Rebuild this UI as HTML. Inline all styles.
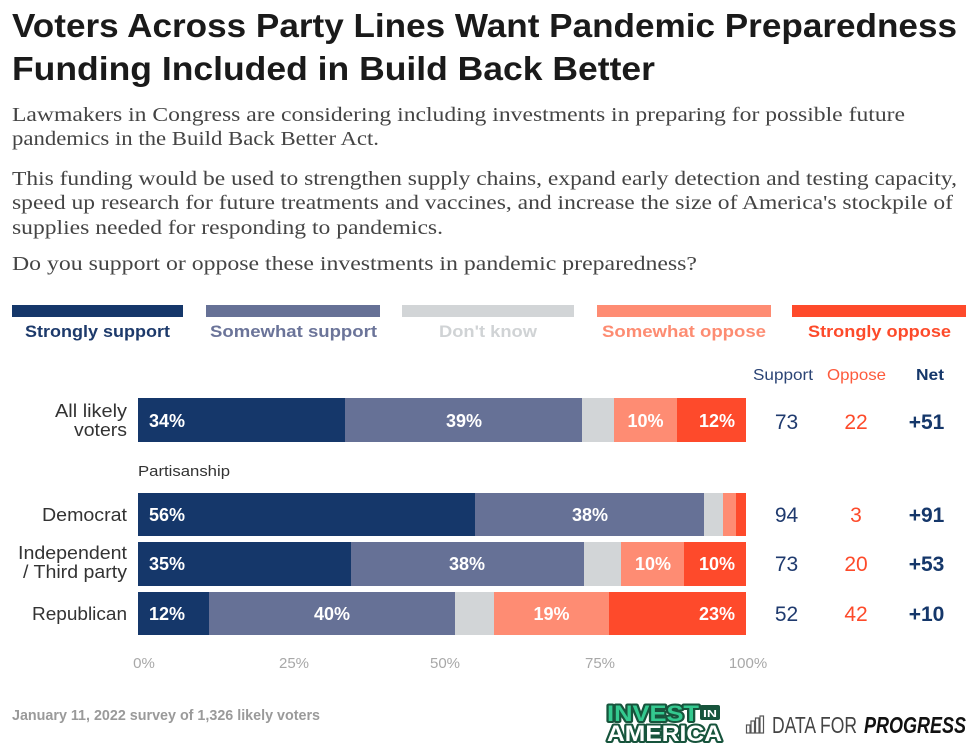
<!DOCTYPE html>
<html>
<head>
<meta charset="utf-8">
<style>
  html, body { margin: 0; padding: 0; background: #ffffff; }
  svg { display: block; }
  .sans { font-family: "Liberation Sans", "DejaVu Sans", sans-serif; }
  .serif { font-family: "Liberation Serif", "DejaVu Serif", serif; }
</style>
</head>
<body>
<svg width="980" height="753" viewBox="0 0 980 753" xmlns="http://www.w3.org/2000/svg">
  <rect x="0" y="0" width="980" height="753" fill="#ffffff"/>

  <!-- Title -->
  <g class="sans" font-weight="bold" font-size="33" fill="#1a1a1a">
    <text x="12" y="37" textLength="945" lengthAdjust="spacingAndGlyphs">Voters Across Party Lines Want Pandemic Preparedness</text>
    <text x="12" y="80" textLength="643" lengthAdjust="spacingAndGlyphs">Funding Included in Build Back Better</text>
  </g>

  <!-- Subtitle -->
  <g class="serif" font-size="20" fill="#444444">
    <text x="12" y="121" textLength="893" lengthAdjust="spacingAndGlyphs">Lawmakers in Congress are considering including investments in preparing for possible future</text>
    <text x="12" y="145" textLength="367" lengthAdjust="spacingAndGlyphs">pandemics in the Build Back Better Act.</text>
    <text x="12" y="185" textLength="945" lengthAdjust="spacingAndGlyphs">This funding would be used to strengthen supply chains, expand early detection and testing capacity,</text>
    <text x="12" y="209" textLength="941" lengthAdjust="spacingAndGlyphs">speed up research for future treatments and vaccines, and increase the size of America's stockpile of</text>
    <text x="12" y="234" textLength="431" lengthAdjust="spacingAndGlyphs">supplies needed for responding to pandemics.</text>
    <text x="12" y="270" textLength="685" lengthAdjust="spacingAndGlyphs">Do you support or oppose these investments in pandemic preparedness?</text>
  </g>

  <!-- Legend -->
  <rect x="12" y="305" width="171" height="12" fill="#15376a"/>
  <rect x="206" y="305" width="174" height="12" fill="#667196"/>
  <rect x="402" y="305" width="172" height="12" fill="#d2d5d7"/>
  <rect x="597" y="305" width="174" height="12" fill="#fe8c73"/>
  <rect x="792" y="305" width="174" height="12" fill="#fe4a2b"/>
  <g class="sans" font-weight="bold" font-size="17">
    <text x="25" y="337" fill="#1d3a6b" textLength="145" lengthAdjust="spacingAndGlyphs">Strongly support</text>
    <text x="210" y="337" fill="#6b7499" textLength="167" lengthAdjust="spacingAndGlyphs">Somewhat support</text>
    <text x="439" y="337" fill="#d0d3d5" textLength="98" lengthAdjust="spacingAndGlyphs">Don't know</text>
    <text x="602" y="337" fill="#fd8c72" textLength="164" lengthAdjust="spacingAndGlyphs">Somewhat oppose</text>
    <text x="808" y="337" fill="#fd4a2a" textLength="143" lengthAdjust="spacingAndGlyphs">Strongly oppose</text>
  </g>

  <!-- Column headers -->
  <g class="sans" font-size="16">
    <text x="753" y="380" fill="#2b4475" textLength="60" lengthAdjust="spacingAndGlyphs">Support</text>
    <text x="827" y="380" fill="#fd5a3c" textLength="59" lengthAdjust="spacingAndGlyphs">Oppose</text>
    <text x="916" y="380" fill="#15376a" font-weight="bold" textLength="28" lengthAdjust="spacingAndGlyphs">Net</text>
  </g>

  <!-- Row labels -->
  <g class="sans" font-size="18" fill="#333333">
    <text x="55" y="417" textLength="72" lengthAdjust="spacingAndGlyphs">All likely</text>
    <text x="74" y="436" textLength="53" lengthAdjust="spacingAndGlyphs">voters</text>
    <text x="42" y="521" textLength="85" lengthAdjust="spacingAndGlyphs">Democrat</text>
    <text x="18" y="559" textLength="109" lengthAdjust="spacingAndGlyphs">Independent</text>
    <text x="23" y="578" textLength="104" lengthAdjust="spacingAndGlyphs">/ Third party</text>
    <text x="32" y="620" textLength="95" lengthAdjust="spacingAndGlyphs">Republican</text>
  </g>
  <text class="sans" x="138" y="476" font-size="15" fill="#333333" textLength="92" lengthAdjust="spacingAndGlyphs">Partisanship</text>

  <!-- Bars: All likely voters -->
  <g>
    <rect x="138" y="398" width="207" height="44" fill="#15376a"/>
    <rect x="345" y="398" width="237" height="44" fill="#667196"/>
    <rect x="582" y="398" width="32" height="44" fill="#d2d5d7"/>
    <rect x="614" y="398" width="63" height="44" fill="#fe8c73"/>
    <rect x="677" y="398" width="69" height="44" fill="#fe4a2b"/>
  </g>
  <!-- Democrat -->
  <g>
    <rect x="138" y="493" width="337" height="43" fill="#15376a"/>
    <rect x="475" y="493" width="229" height="43" fill="#667196"/>
    <rect x="704" y="493" width="19" height="43" fill="#d2d5d7"/>
    <rect x="723" y="493" width="13" height="43" fill="#fe8c73"/>
    <rect x="736" y="493" width="10" height="43" fill="#fe4a2b"/>
  </g>
  <!-- Independent -->
  <g>
    <rect x="138" y="542" width="213" height="44" fill="#15376a"/>
    <rect x="351" y="542" width="233" height="44" fill="#667196"/>
    <rect x="584" y="542" width="37" height="44" fill="#d2d5d7"/>
    <rect x="621" y="542" width="63" height="44" fill="#fe8c73"/>
    <rect x="684" y="542" width="62" height="44" fill="#fe4a2b"/>
  </g>
  <!-- Republican -->
  <g>
    <rect x="138" y="592" width="71" height="43" fill="#15376a"/>
    <rect x="209" y="592" width="246" height="43" fill="#667196"/>
    <rect x="455" y="592" width="39" height="43" fill="#d2d5d7"/>
    <rect x="494" y="592" width="115" height="43" fill="#fe8c73"/>
    <rect x="609" y="592" width="137" height="43" fill="#fe4a2b"/>
  </g>

  <!-- Bar labels -->
  <g class="sans" font-weight="bold" font-size="18" fill="#ffffff">
    <text x="149" y="427">34%</text>
    <text x="464" y="427" text-anchor="middle">39%</text>
    <text x="645.5" y="427" text-anchor="middle">10%</text>
    <text x="735" y="427" text-anchor="end">12%</text>

    <text x="149" y="521">56%</text>
    <text x="590" y="521" text-anchor="middle">38%</text>

    <text x="149" y="570">35%</text>
    <text x="467" y="570" text-anchor="middle">38%</text>
    <text x="653" y="570" text-anchor="middle">10%</text>
    <text x="735" y="570" text-anchor="end">10%</text>

    <text x="149" y="620">12%</text>
    <text x="332" y="620" text-anchor="middle">40%</text>
    <text x="551.5" y="620" text-anchor="middle">19%</text>
    <text x="735" y="620" text-anchor="end">23%</text>
  </g>

  <!-- Right-side numbers -->
  <g class="sans" font-size="21" text-anchor="middle">
    <text x="786.5" y="429" fill="#1f3a6e">73</text>
    <text x="856" y="429" fill="#fd4a2a">22</text>
    <text x="926.5" y="429" fill="#15376a" font-weight="bold">+51</text>

    <text x="786.5" y="522" fill="#1f3a6e">94</text>
    <text x="856" y="522" fill="#fd4a2a">3</text>
    <text x="926.5" y="522" fill="#15376a" font-weight="bold">+91</text>

    <text x="786.5" y="571" fill="#1f3a6e">73</text>
    <text x="856" y="571" fill="#fd4a2a">20</text>
    <text x="926.5" y="571" fill="#15376a" font-weight="bold">+53</text>

    <text x="786.5" y="621" fill="#1f3a6e">52</text>
    <text x="856" y="621" fill="#fd4a2a">42</text>
    <text x="926.5" y="621" fill="#15376a" font-weight="bold">+10</text>
  </g>

  <!-- Axis ticks -->
  <g class="sans" font-size="15" fill="#a8a8a8" text-anchor="middle">
    <text x="144" y="668">0%</text>
    <text x="294" y="668">25%</text>
    <text x="445" y="668">50%</text>
    <text x="600" y="668">75%</text>
    <text x="748" y="668">100%</text>
  </g>

  <!-- Footer -->
  <text class="sans" x="12" y="720" font-size="15" font-weight="bold" fill="#9a9a9a" textLength="308" lengthAdjust="spacingAndGlyphs">January 11, 2022 survey of 1,326 likely voters</text>

  <!-- Invest in America logo -->
  <g class="sans" font-weight="bold">
    <rect x="700" y="705" width="20" height="15" rx="2" fill="#17543c"/>
    <text x="607" y="721" font-size="22" fill="#34c98f" stroke="#17543c" stroke-width="4" paint-order="stroke" stroke-linejoin="round" textLength="92" lengthAdjust="spacingAndGlyphs">INVEST</text>
    <text x="703" y="717" font-size="10" fill="#ffffff" textLength="14" lengthAdjust="spacingAndGlyphs">IN</text>
    <text x="607" y="741" font-size="22" fill="#ffffff" stroke="#17543c" stroke-width="4" paint-order="stroke" stroke-linejoin="round" textLength="115" lengthAdjust="spacingAndGlyphs">AMERICA</text>
  </g>

  <!-- Data for Progress logo -->
  <g fill="none" stroke="#555555" stroke-width="1.2">
    <rect x="746.5" y="725" width="3.5" height="8"/>
    <rect x="751" y="721" width="3.5" height="12"/>
    <rect x="755.5" y="718" width="3.5" height="15"/>
    <rect x="760" y="716" width="3.5" height="17"/>
  </g>
  <text class="sans" x="772" y="733" font-size="23" fill="#444444" textLength="85" lengthAdjust="spacingAndGlyphs">DATA FOR</text>
  <text class="sans" x="864" y="733" font-size="23" fill="#111111" font-weight="bold" font-style="italic" textLength="102" lengthAdjust="spacingAndGlyphs">PROGRESS</text>
</svg>
</body>
</html>
